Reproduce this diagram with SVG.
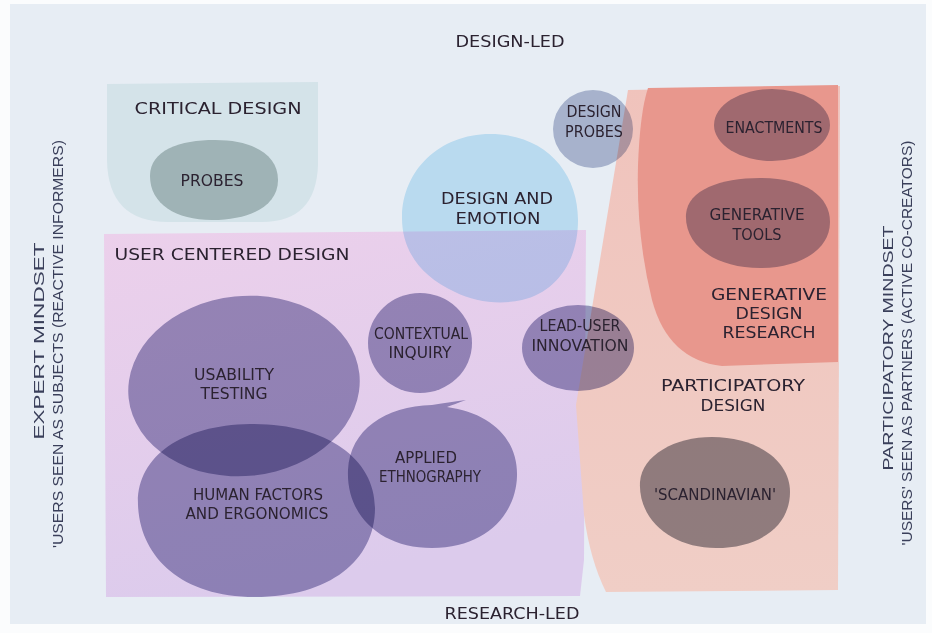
<svg xmlns="http://www.w3.org/2000/svg" width="932" height="633" viewBox="0 0 932 633">
<style>
  .t { font-family: "Liberation Sans Narrow", "DejaVu Sans Condensed", "Liberation Sans", sans-serif; fill: #2b2230; font-size: 15px; text-anchor: middle; }
  .tl { font-size: 16px; }
  .side { font-family: "Liberation Sans", "DejaVu Sans", sans-serif; fill: #3a3f5a; font-size: 14px; text-anchor: middle; }
  .m { mix-blend-mode: multiply; }
  .ucdblob { fill: #a3a1c4; }
</style>
<defs>
  <linearGradient id="ucdGrad" x1="0" y1="0" x2="0.3" y2="1">
    <stop offset="0" stop-color="#ecd0eb"/>
    <stop offset="1" stop-color="#dccbec"/>
  </linearGradient>
  <linearGradient id="peachGrad" x1="0" y1="0" x2="0" y2="1">
    <stop offset="0" stop-color="#f0c3bc"/>
    <stop offset="1" stop-color="#f0cec6"/>
  </linearGradient>
</defs>

<rect x="0" y="0" width="932" height="633" fill="#fbfcfd"/>
<rect x="10" y="4" width="916" height="620" fill="#e7edf4"/>

<!-- Critical design region -->
<g id="critical-design">
  <path d="M107,84 L318,82 L318,165 Q316,222 262,222 L168,222 Q108,222 107,160 Z" fill="#d4e3e9"/>
  <text class="t tl" x="218" y="114" textLength="167" lengthAdjust="spacingAndGlyphs">CRITICAL DESIGN</text>
</g>

<!-- User centered design region -->
<g id="user-centered-design">
  <path d="M104,234 L586,230 L584,560 L580,596 L106,597 Z" fill="url(#ucdGrad)"/>
  <text class="t tl" x="232" y="260" textLength="235" lengthAdjust="spacingAndGlyphs">USER CENTERED DESIGN</text>
</g>

<!-- Participatory design region -->
<g id="participatory-design">
  <path d="M628,90 L840,86 L838,590 L606,592 Q590,560 584,515 L576,405 Z" fill="url(#peachGrad)"/>
  <text class="t" x="733" y="391" textLength="144" lengthAdjust="spacingAndGlyphs">PARTICIPATORY</text>
  <text class="t" x="733" y="411" textLength="65" lengthAdjust="spacingAndGlyphs">DESIGN</text>
</g>

<!-- Generative design research region -->
<g id="generative-design-research">
  <path d="M648,88 L838,85 L838,362 L722,366 Q668,360 652,300 Q636,235 638,165 Q640,112 648,88 Z" fill="#e8978d"/>
  <text class="t" x="769" y="300" textLength="116" lengthAdjust="spacingAndGlyphs">GENERATIVE</text>
  <text class="t" x="769" y="319" textLength="67" lengthAdjust="spacingAndGlyphs">DESIGN</text>
  <text class="t" x="769" y="338" textLength="93" lengthAdjust="spacingAndGlyphs">RESEARCH</text>
</g>

<!-- Design and emotion -->
<g id="design-and-emotion">
  <path class="m" d="M490,134 C545,134 578,172 578,220 C578,262 556,292 522,300 C500,305 475,302 455,292 C420,276 402,250 402,218 C402,170 440,134 490,134 Z" fill="#cdebfa"/>
  <text class="t" x="497" y="204" textLength="112" lengthAdjust="spacingAndGlyphs">DESIGN AND</text>
  <text class="t" x="498" y="224" textLength="85" lengthAdjust="spacingAndGlyphs">EMOTION</text>
</g>

<!-- Design probes -->
<g id="design-probes">
  <ellipse class="m" cx="593" cy="129" rx="40" ry="39" fill="#b8c0d6"/>
  <text class="t" x="594" y="117" textLength="55" lengthAdjust="spacingAndGlyphs">DESIGN</text>
  <text class="t" x="594" y="137" textLength="58" lengthAdjust="spacingAndGlyphs">PROBES</text>
</g>

<!-- Probes -->
<g id="probes">
  <path class="m" d="M150,176 C150,150 180,140 215,140 C252,140 278,154 278,180 C278,206 250,220 212,220 C176,220 150,204 150,176 Z" fill="#bfc9c7"/>
  <text class="t" x="212" y="186" textLength="63" lengthAdjust="spacingAndGlyphs">PROBES</text>
</g>

<!-- Enactments -->
<g id="enactments">
  <ellipse class="m" cx="772" cy="125" rx="58" ry="36" fill="#b0b2c8"/>
  <text class="t" x="774" y="133" textLength="97" lengthAdjust="spacingAndGlyphs">ENACTMENTS</text>
</g>

<!-- Generative tools -->
<g id="generative-tools">
  <path class="m" d="M686,214 C688,190 720,178 760,178 C805,178 830,196 830,222 C830,250 800,268 760,268 C716,268 684,246 686,214 Z" fill="#b0b2c8"/>
  <text class="t" x="757" y="220" textLength="95" lengthAdjust="spacingAndGlyphs">GENERATIVE</text>
  <text class="t" x="757" y="240" textLength="49" lengthAdjust="spacingAndGlyphs">TOOLS</text>
</g>

<!-- Scandinavian -->
<g id="scandinavian">
  <path class="m" d="M640,482 C642,455 675,437 712,437 C756,437 790,460 790,492 C790,526 760,548 716,548 C672,548 638,520 640,482 Z" fill="#999aa2"/>
  <text class="t" x="715" y="500" textLength="122" lengthAdjust="spacingAndGlyphs">'SCANDINAVIAN'</text>
</g>

<!-- Lead-user innovation -->
<g id="lead-user-innovation">
  <ellipse class="m ucdblob" cx="578" cy="348" rx="56" ry="43"/>
  <text class="t" x="580" y="331" textLength="81" lengthAdjust="spacingAndGlyphs">LEAD-USER</text>
  <text class="t" x="580" y="351" textLength="97" lengthAdjust="spacingAndGlyphs">INNOVATION</text>
</g>

<!-- Contextual inquiry -->
<g id="contextual-inquiry">
  <ellipse class="m ucdblob" cx="420" cy="343" rx="52" ry="50"/>
  <text class="t" x="421" y="339" textLength="94" lengthAdjust="spacingAndGlyphs">CONTEXTUAL</text>
  <text class="t" x="420" y="358" textLength="63" lengthAdjust="spacingAndGlyphs">INQUIRY</text>
</g>

<!-- Usability testing -->
<g id="usability-testing">
  <ellipse class="m ucdblob" cx="244" cy="386" rx="116" ry="90" transform="rotate(-6 244 386)"/>
  <text class="t" x="234" y="380" textLength="80" lengthAdjust="spacingAndGlyphs">USABILITY</text>
  <text class="t" x="234" y="399" textLength="67" lengthAdjust="spacingAndGlyphs">TESTING</text>
</g>

<!-- Human factors and ergonomics -->
<g id="human-factors">
  <path class="m ucdblob" d="M138,505 C136,458 180,425 250,424 C325,423 375,458 375,508 C375,560 330,597 255,597 C180,597 140,556 138,505 Z"/>
  <text class="t" x="258" y="500" textLength="130" lengthAdjust="spacingAndGlyphs">HUMAN FACTORS</text>
  <text class="t" x="257" y="519" textLength="143" lengthAdjust="spacingAndGlyphs">AND ERGONOMICS</text>
</g>

<!-- Applied ethnography -->
<g id="applied-ethnography">
  <path class="m ucdblob" d="M348,470 C350,430 385,406 432,405 C445,403 456,401 466,400 C458,403 452,405 447,407 C490,413 518,438 517,476 C516,515 485,548 432,548 C380,548 346,515 348,470 Z"/>
  <text class="t" x="426" y="463" textLength="62" lengthAdjust="spacingAndGlyphs">APPLIED</text>
  <text class="t" x="430" y="482" textLength="102" lengthAdjust="spacingAndGlyphs">ETHNOGRAPHY</text>
</g>

<!-- Axis labels -->
<g id="axis-design-led">
  <text class="t tl" x="510" y="47" textLength="109" lengthAdjust="spacingAndGlyphs">DESIGN-LED</text>
</g>
<g id="axis-research-led">
  <text class="t tl" x="512" y="619" textLength="135" lengthAdjust="spacingAndGlyphs">RESEARCH-LED</text>
</g>
<g id="axis-expert-mindset">
  <text class="side" transform="translate(44 341) rotate(-90)" textLength="197" lengthAdjust="spacingAndGlyphs" font-size="15">EXPERT MINDSET</text>
  <text class="side" transform="translate(63 344) rotate(-90)" textLength="408" lengthAdjust="spacingAndGlyphs" font-size="13">'USERS SEEN AS SUBJECTS (REACTIVE INFORMERS)</text>
</g>
<g id="axis-participatory-mindset">
  <text class="side" transform="translate(893 348) rotate(-90)" textLength="245" lengthAdjust="spacingAndGlyphs" font-size="15">PARTICIPATORY MINDSET</text>
  <text class="side" transform="translate(912 343) rotate(-90)" textLength="405" lengthAdjust="spacingAndGlyphs" font-size="13">'USERS' SEEN AS PARTNERS (ACTIVE CO-CREATORS)</text>
</g>
</svg>
